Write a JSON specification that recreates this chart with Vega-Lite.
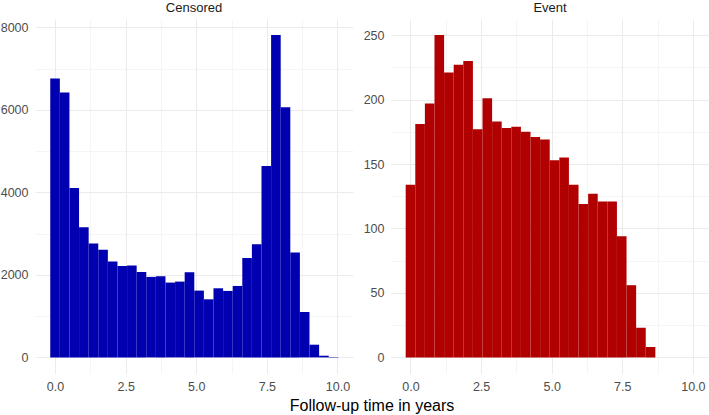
{
  "$schema": "https://vega.github.io/schema/vega-lite/v6.json",
  "autosize": {"type": "pad"},
  "padding": {"left": 0, "top": 2, "right": 0, "bottom": 0},
  "background": "white",
  "bounds": "flush",
  "spacing": 38,
  "data": {"values": [
    {"status": "Censored", "x0": -0.17, "x1": 0.17, "n": 6757},
    {"status": "Censored", "x0": 0.17, "x1": 0.51, "n": 6418},
    {"status": "Censored", "x0": 0.51, "x1": 0.85, "n": 4103},
    {"status": "Censored", "x0": 0.85, "x1": 1.19, "n": 3156},
    {"status": "Censored", "x0": 1.19, "x1": 1.53, "n": 2760},
    {"status": "Censored", "x0": 1.53, "x1": 1.87, "n": 2606},
    {"status": "Censored", "x0": 1.87, "x1": 2.21, "n": 2323},
    {"status": "Censored", "x0": 2.21, "x1": 2.55, "n": 2218},
    {"status": "Censored", "x0": 2.55, "x1": 2.89, "n": 2225},
    {"status": "Censored", "x0": 2.89, "x1": 3.23, "n": 2072},
    {"status": "Censored", "x0": 3.23, "x1": 3.57, "n": 1951},
    {"status": "Censored", "x0": 3.57, "x1": 3.91, "n": 1967},
    {"status": "Censored", "x0": 3.91, "x1": 4.25, "n": 1813},
    {"status": "Censored", "x0": 4.25, "x1": 4.59, "n": 1837},
    {"status": "Censored", "x0": 4.59, "x1": 4.93, "n": 2064},
    {"status": "Censored", "x0": 4.93, "x1": 5.27, "n": 1619},
    {"status": "Censored", "x0": 5.27, "x1": 5.61, "n": 1408},
    {"status": "Censored", "x0": 5.61, "x1": 5.95, "n": 1675},
    {"status": "Censored", "x0": 5.95, "x1": 6.29, "n": 1611},
    {"status": "Censored", "x0": 6.29, "x1": 6.63, "n": 1732},
    {"status": "Censored", "x0": 6.63, "x1": 6.97, "n": 2412},
    {"status": "Censored", "x0": 6.97, "x1": 7.31, "n": 2744},
    {"status": "Censored", "x0": 7.31, "x1": 7.65, "n": 4638},
    {"status": "Censored", "x0": 7.65, "x1": 7.99, "n": 7811},
    {"status": "Censored", "x0": 7.99, "x1": 8.33, "n": 6062},
    {"status": "Censored", "x0": 8.33, "x1": 8.67, "n": 2541},
    {"status": "Censored", "x0": 8.67, "x1": 9.01, "n": 1101},
    {"status": "Censored", "x0": 9.01, "x1": 9.35, "n": 308},
    {"status": "Censored", "x0": 9.35, "x1": 9.69, "n": 41},
    {"status": "Censored", "x0": 9.69, "x1": 10.03, "n": 10},
    {"status": "Event", "x0": -0.17, "x1": 0.17, "n": 134},
    {"status": "Event", "x0": 0.17, "x1": 0.51, "n": 181},
    {"status": "Event", "x0": 0.51, "x1": 0.85, "n": 197},
    {"status": "Event", "x0": 0.85, "x1": 1.19, "n": 250},
    {"status": "Event", "x0": 1.19, "x1": 1.53, "n": 221},
    {"status": "Event", "x0": 1.53, "x1": 1.87, "n": 227},
    {"status": "Event", "x0": 1.87, "x1": 2.21, "n": 230},
    {"status": "Event", "x0": 2.21, "x1": 2.55, "n": 177},
    {"status": "Event", "x0": 2.55, "x1": 2.89, "n": 201},
    {"status": "Event", "x0": 2.89, "x1": 3.23, "n": 183},
    {"status": "Event", "x0": 3.23, "x1": 3.57, "n": 178},
    {"status": "Event", "x0": 3.57, "x1": 3.91, "n": 179},
    {"status": "Event", "x0": 3.91, "x1": 4.25, "n": 175},
    {"status": "Event", "x0": 4.25, "x1": 4.59, "n": 171},
    {"status": "Event", "x0": 4.59, "x1": 4.93, "n": 169},
    {"status": "Event", "x0": 4.93, "x1": 5.27, "n": 153},
    {"status": "Event", "x0": 5.27, "x1": 5.61, "n": 155},
    {"status": "Event", "x0": 5.61, "x1": 5.95, "n": 134},
    {"status": "Event", "x0": 5.95, "x1": 6.29, "n": 119},
    {"status": "Event", "x0": 6.29, "x1": 6.63, "n": 127},
    {"status": "Event", "x0": 6.63, "x1": 6.97, "n": 121},
    {"status": "Event", "x0": 6.97, "x1": 7.31, "n": 121},
    {"status": "Event", "x0": 7.31, "x1": 7.65, "n": 94},
    {"status": "Event", "x0": 7.65, "x1": 7.99, "n": 56},
    {"status": "Event", "x0": 7.99, "x1": 8.33, "n": 23},
    {"status": "Event", "x0": 8.33, "x1": 8.67, "n": 8}
  ]},
  "config": {
    "view": {"stroke": null},
    "font": "Liberation Sans",
    "axis": {
      "domain": false,
      "ticks": false,
      "tickSize": 0,
      "labelFont": "Liberation Sans",
      "labelFontSize": 12.5,
      "labelColor": "#4d4d4d",
      "labelOverlap": false,
      "labelBound": false,
      "labelPadding": 7,
      "gridColor": "#ebebeb"
    },
    "title": {
      "font": "Liberation Sans",
      "fontSize": 13,
      "fontWeight": "normal",
      "color": "#1a1a1a",
      "anchor": "middle",
      "baseline": "alphabetic",
      "offset": 4
    }
  },
  "hconcat": [
    {
      "title": "Censored",
      "width": 318,
      "height": 354.5,
      "transform": [{"filter": "datum.status === 'Censored'"}],
      "mark": {"type": "bar", "color": "#0000b0"},
      "encoding": {
        "x": {
          "field": "x0", "type": "quantitative",
          "scale": {"domain": [-0.71, 10.55], "nice": false, "zero": false},
          "axis": {
            "values": [0, 1.25, 2.5, 3.75, 5, 6.25, 7.5, 8.75, 10],
            "labelExpr": "datum.value % 2.5 === 0 ? format(datum.value, '.1f') : ''",
            "gridWidth": {"condition": {"test": "datum.value % 2.5 !== 0", "value": 0.5}, "value": 1},
            "title": "Follow-up time in years",
            "titleFont": "Liberation Sans",
            "titleFontSize": 16,
            "titleFontWeight": "normal",
            "titleColor": "#000000",
            "titleBaseline": "alphabetic",
            "titleX": 336.5,
            "titleY": 36.6
          }
        },
        "x2": {"field": "x1"},
        "y": {
          "field": "n", "type": "quantitative",
          "scale": {"domain": [-390, 8201], "nice": false, "zero": false},
          "axis": {
            "title": null,
            "values": [0, 1000, 2000, 3000, 4000, 5000, 6000, 7000, 8000],
            "labelExpr": "datum.value % 2000 === 0 ? format(datum.value, 'd') : ''",
            "gridWidth": {"condition": {"test": "datum.value % 2000 !== 0", "value": 0.5}, "value": 1}
          }
        },
        "y2": {"datum": 0}
      }
    },
    {
      "title": "Event",
      "width": 318,
      "height": 354.5,
      "transform": [{"filter": "datum.status === 'Event'"}],
      "mark": {"type": "bar", "color": "#b00000"},
      "encoding": {
        "x": {
          "field": "x0", "type": "quantitative",
          "scale": {"domain": [-0.69, 10.57], "nice": false, "zero": false},
          "axis": {
            "values": [0, 1.25, 2.5, 3.75, 5, 6.25, 7.5, 8.75, 10],
            "labelExpr": "datum.value % 2.5 === 0 ? format(datum.value, '.1f') : ''",
            "gridWidth": {"condition": {"test": "datum.value % 2.5 !== 0", "value": 0.5}, "value": 1},
            "title": null
          }
        },
        "x2": {"field": "x1"},
        "y": {
          "field": "n", "type": "quantitative",
          "scale": {"domain": [-12.5, 262.5], "nice": false, "zero": false},
          "axis": {
            "title": null,
            "values": [0, 25, 50, 75, 100, 125, 150, 175, 200, 225, 250],
            "labelExpr": "datum.value % 50 === 0 ? format(datum.value, 'd') : ''",
            "gridWidth": {"condition": {"test": "datum.value % 50 !== 0", "value": 0.5}, "value": 1}
          }
        },
        "y2": {"datum": 0}
      }
    }
  ]
}
